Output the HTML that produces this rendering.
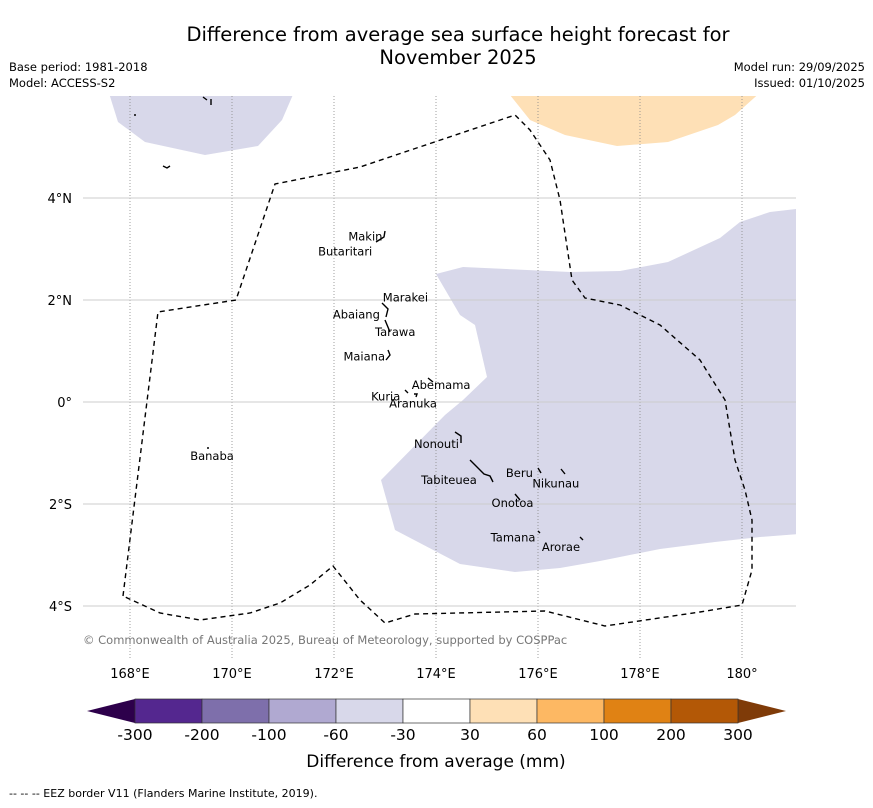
<!DOCTYPE html>
<html><head><meta charset="utf-8"><style>
body{margin:0;background:#fff;width:873px;height:804px;overflow:hidden;font-family:"DejaVu Sans","Liberation Sans",sans-serif}
svg text{font-family:"DejaVu Sans","Liberation Sans",sans-serif}
</style></head><body>
<svg id="c" width="873" height="804">
<text x="458" y="41" font-size="19.5" text-anchor="middle">Difference from average sea surface height forecast for</text>
<text x="458" y="64" font-size="19.5" text-anchor="middle">November 2025</text>
<text x="9" y="71" font-size="11.5">Base period: 1981-2018</text>
<text x="9" y="87" font-size="11.5">Model: ACCESS-S2</text>
<text x="865" y="71" font-size="11.5" text-anchor="end">Model run: 29/09/2025</text>
<text x="865" y="87" font-size="11.5" text-anchor="end">Issued: 01/10/2025</text>
<g id="map"></g>
<text x="83" y="644" font-size="11.5" fill="#777">© Commonwealth of Australia 2025, Bureau of Meteorology, supported by COSPPac</text>
<g id="cbar"></g>
<text x="436" y="767" font-size="17" text-anchor="middle">Difference from average (mm)</text>
<text x="9" y="797" font-size="11">--  --  -- EEZ border V11 (Flanders Marine Institute, 2019).</text>
</svg>
<script>
const lonTicks=[168,170,172,174,176,178,180];
const lonLabels=["168°E","170°E","172°E","174°E","176°E","178°E","180°"];
const latTicks=[4,2,0,-2,-4];
const latLabels=["4°N","2°N","0°","2°S","4°S"];
const levels=["-300","-200","-100","-60","-30","30","60","100","200","300"];
const colors=["#54278f","#7e6fab","#b0a9d1","#d8d8ea","#ffffff","#fee0b6","#fdb863","#e08214","#b35806"];
const islands=[["Makin",172.95,3.25,"end"],["Butaritari",172.75,2.95,"end"],["Marakei",173.4,2.05,"middle"],["Abaiang",172.9,1.72,"end"],["Tarawa",173.2,1.37,"middle"],["Maiana",173.0,0.89,"end"],["Abemama",174.1,0.33,"middle"],["Kuria",173.3,0.11,"end"],["Aranuka",173.55,-0.03,"middle"],["Nonouti",174.45,-0.82,"end"],["Tabiteuea",174.8,-1.53,"end"],["Beru",175.9,-1.39,"end"],["Nikunau",176.35,-1.6,"middle"],["Onotoa",175.5,-1.98,"middle"],["Tamana",175.95,-2.66,"end"],["Arorae",176.45,-2.84,"middle"]];
const X=lon=>130+(lon-168)*51, Y=lat=>402-lat*51;
const NS="http://www.w3.org/2000/svg";
function mk(p,t,a){const e=document.createElementNS(NS,t);for(const k in a)e.setAttribute(k,a[k]);p.appendChild(e);return e;}
const map=document.getElementById('map');
const clip=mk(map,'clipPath',{id:'cl'});mk(clip,'rect',{x:83,y:96,width:713,height:562});
const g=mk(map,'g',{'clip-path':'url(#cl)'});
let p;
p=mk(g,'polygon',{points:"436,274 463,267 570,272 620,271 668,262 720,238 740,222 770,212 796,209 800,209 800,534 760,537 715,542 660,549 600,561 560,568 515,572 460,564 395,530 381,480 445,415 463,400 487,377 475,325 460,315",fill:colors[3]});

p=mk(g,'polygon',{points:"108,90 118,122 145,142 205,155 258,146 282,120 295,90",fill:colors[3]});

p=mk(g,'polygon',{points:"506,90 530,120 565,135 617,146 668,142 718,125 735,115 763,90",fill:colors[5]});

lonTicks.forEach((v,i)=>{const l=mk(g,'line',{x1:X(v),x2:X(v),y1:96,y2:658,stroke:'#888','stroke-width':0.8,'stroke-dasharray':'1,2'});

const t=mk(map,'text',{x:X(v),y:678,'font-size':13,'text-anchor':'middle'});t.textContent=lonLabels[i];
});
latTicks.forEach((v,i)=>{const l=mk(g,'line',{x1:83,x2:796,y1:Y(v),y2:Y(v),stroke:'#ccc','stroke-width':1});

const t=mk(map,'text',{x:72,y:Y(v)+5,'font-size':13,'text-anchor':'end'});t.textContent=latLabels[i];
});
p=mk(g,'polyline',{points:"123,596 158,312 236,300 275,184 360,167 515,115 530,130 550,160 560,200 572,280 585,298 620,305 660,325 700,360 725,400 735,460 745,490 752,520 752,570 742,605 700,612 605,626 545,611 415,614 385,623 360,600 333,566 310,585 280,603 250,613 200,620 160,613 123,596",fill:'none',stroke:'#000','stroke-width':1.4,'stroke-dasharray':'5,4'});

p=mk(g,'path',{d:"M385,231 l-1,6 l-8,5 M382,303 l6,6 l-2,8 M385,320 l5,12 M388,350 l2,5 l-4,5 M428,378 l5,4 M405,390 l3,3 M414,394 l3,0 l-1,3 M455,432 l6,4 l0,7 M470,460 l8,8 l6,6 l6,2 l3,6 M538,468 l3,5 M561,469 l4,5 M515,494 l5,6 M538,531 l2,2 M580,537 l3,3 M203,97 l4,3 M211,99 l0,6 M134,115 l2,0 M163,166 l4,2 l3,-2 M207,448 l2,0",fill:'none',stroke:'#000','stroke-width':1.4});

const ban=mk(map,'text',{x:212,y:460,'font-size':11.5,'text-anchor':'middle'});ban.textContent="Banaba";

islands.forEach(d=>{const t=mk(map,'text',{x:X(d[1]),y:Y(d[2])+4,'font-size':11.5,'text-anchor':d[3]});t.textContent=d[0];
});
const cb=document.getElementById('cbar');
const x0=135,x1=738,w=(x1-x0)/colors.length;
p=mk(cb,'polygon',{points:`${x0},699 87,711 ${x0},723`,fill:'#2d004b'});

p=mk(cb,'polygon',{points:`${x1},699 786,711 ${x1},723`,fill:'#7f3b08'});

colors.forEach((c,i)=>{const r=mk(cb,'rect',{x:x0+i*w,y:699,width:w,height:24,fill:c,stroke:'#333','stroke-width':0.7});
});
levels.forEach((s,i)=>{const t=mk(cb,'text',{x:x0+i*w,y:740,'font-size':15.5,'text-anchor':'middle'});t.textContent=s;
});
</script>
</body></html>
